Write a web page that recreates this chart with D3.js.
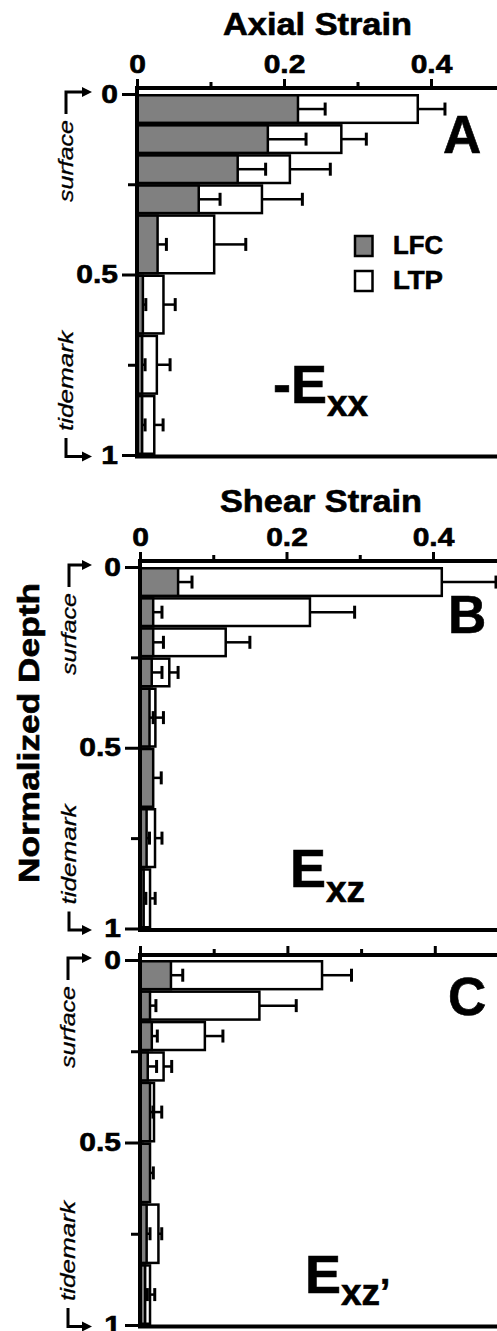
<!DOCTYPE html>
<html>
<head>
<meta charset="utf-8">
<script src="https://cdn.jsdelivr.net/npm/d3@7"></script>
<style>
  html, body { margin: 0; padding: 0; background: #fff; }
  svg { display: block; }
  text { font-family: "Liberation Sans", Arial, Helvetica, sans-serif; fill: #000; }
  text.heavy { stroke: #000; stroke-width: 0.6px; }
</style>
</head>
<body>
<svg id="chart" width="497" height="1331"></svg>
<script>
// Depth bins (normalized depth from surface to tidemark)
const depthEdges = [0, 1/12, 2/12, 3/12, 4/12, 0.5, 4/6, 5/6, 1];
const groups = ["LFC", "LTP"];

const strainTicks = [0, 0.2, 0.4];
const strainTickLabels = ["0", "0.2", "0.4"];
const strainMinorTicks = [0.1, 0.3];
const depthTicks = [0, 0.5, 1];
const depthTickLabels = ["0", "0.5", "1"];
const depthMinorTicks = [0.25, 0.75];

// Axial strain (-Exx), mean and SD per depth bin
const axialLFC    = [0.219, 0.178, 0.137, 0.084, 0.028, 0.008, 0.007, 0.007];
const axialLFCErr = [0.037, 0.052, 0.038, 0.029, 0.012, 0.004, 0.004, 0.004];
const axialLTP    = [0.382, 0.278, 0.208, 0.170, 0.105, 0.036, 0.027, 0.0235];
const axialLTPErr = [0.037, 0.034, 0.055, 0.055, 0.043, 0.016, 0.018, 0.012];

// Shear strain (Exz)
const shearLFC    = [0.052, 0.018, 0.018, 0.016, 0.013, 0.018, 0.009, 0.005];
const shearLFCErr = [0.019, 0.012, 0.014, 0.014, 0.005, 0.011, 0.004, 0.003];
const shearLTP    = [0.412, 0.232, 0.117, 0.040, 0.021, 0.012, 0.0205, 0.0137];
const shearLTPErr = [0.074, 0.061, 0.033, 0.012, 0.011, 0.005, 0.0095, 0.007];

// Shear strain in the rotated frame (Exz')
const shearPLFC    = [0.042, 0.0136, 0.016, 0.0105, 0.0136, 0.0136, 0.009, 0.007];
const shearPLFCErr = [0.016, 0.008, 0.0075, 0.012, 0.004, 0.0045, 0.0046, 0.003];
const shearPLTP    = [0.247, 0.162, 0.088, 0.032, 0.019, 0.004, 0.025, 0.0136];
const shearPLTPErr = [0.040, 0.050, 0.0245, 0.011, 0.0105, 0.003, 0.0045, 0.0064];

const panels = [
  { letter: "A", title: "Axial Strain", lfc: axialLFC, lfcErr: axialLFCErr, ltp: axialLTP, ltpErr: axialLTPErr,
    main: "-E", sub: "xx" },
  { letter: "B", title: "Shear Strain", lfc: shearLFC, lfcErr: shearLFCErr, ltp: shearLTP, ltpErr: shearLTPErr,
    main: "E", sub: "xz" },
  { letter: "C", title: null, lfc: shearPLFC, lfcErr: shearPLFCErr, ltp: shearPLTP, ltpErr: shearPLTPErr,
    main: "E", sub: "xz\u2019" }
];

// Page layout for each panel
const layout = [
  { x0: 137, ppu: 735, axisY: 88, y0: 94, y1: 455, tickLabels: true,
    titleX: 317.5, titleY: 35, titleLen: 189,
    letterX: 443, letterY: 153, formX: 273, formY: 403, subDy: 13, bracketX: 66, legend: true },
  { x0: 140, ppu: 732.5, axisY: 561, y0: 567, y1: 928.5, tickLabels: true,
    titleX: 321, titleY: 511.5, titleLen: 202,
    letterX: 448, letterY: 633, formX: 290, formY: 887, subDy: 15, bracketX: 69, legend: false },
  { x0: 140, ppu: 737, axisY: 955, y0: 960, y1: 1325, tickLabels: false,
    letterX: 448, letterY: 1015, formX: 305, formY: 1293, subDy: 12, bracketX: 68, legend: false }
];

const fills = { LFC: "#808080", LTP: "#ffffff" };
const svg = d3.select("#chart");
const W = 497;
const LABEL_STRETCH = 1.2;

function drawPanel(p, L) {
  const g = svg.append("g");
  const x = d3.scaleLinear().domain([0, 0.5]).range([L.x0, L.x0 + 0.5 * L.ppu]);
  const y = d3.scaleLinear().domain([0, 1]).range([L.y0, L.y1]);

  const bins = d3.range(depthEdges.length - 1).map(i => ({
    lo: depthEdges[i], hi: depthEdges[i + 1],
    LFC: p.lfc[i], LFCErr: p.lfcErr[i], LTP: p.ltp[i], LTPErr: p.ltpErr[i]
  }));

  // LTP first, LFC drawn over it
  ["LTP", "LFC"].forEach(key => {
    const s = g.append("g");
    s.selectAll("rect").data(bins).join("rect")
      .attr("x", x(0))
      .attr("y", d => y(d.lo) + 1.25)
      .attr("width", d => x(d[key]) - x(0))
      .attr("height", d => y(d.hi) - y(d.lo) - 2.5)
      .attr("fill", fills[key])
      .attr("stroke", "#000")
      .attr("stroke-width", 2.5);
    const mid = d => (y(d.lo) + y(d.hi)) / 2;
    s.selectAll("line.err").data(bins).join("line")
      .attr("class", "err")
      .attr("x1", d => x(d[key])).attr("x2", d => x(d[key] + d[key + "Err"]))
      .attr("y1", mid).attr("y2", mid)
      .attr("stroke", "#000").attr("stroke-width", 2.5);
    s.selectAll("line.cap").data(bins).join("line")
      .attr("class", "cap")
      .attr("x1", d => x(d[key] + d[key + "Err"])).attr("x2", d => x(d[key] + d[key + "Err"]))
      .attr("y1", d => mid(d) - 6.5).attr("y2", d => mid(d) + 6.5)
      .attr("stroke", "#000").attr("stroke-width", 3);
  });

  // Top strain axis
  const topAxis = g.append("g").attr("transform", `translate(0,${L.axisY})`)
    .call(d3.axisTop(x).tickValues(strainTicks).tickSize(9).tickSizeOuter(0).tickPadding(6)
      .tickFormat((d, i) => L.tickLabels ? strainTickLabels[i] : ""));
  topAxis.select(".domain").attr("stroke-width", 4).attr("d", `M${L.x0 - 2},0H${W + 5}`);
  topAxis.selectAll(".tick line").attr("stroke-width", 3);
  topAxis.selectAll(".tick text")
    .attr("class", "heavy")
    .attr("font-size", 25).attr("font-weight", "bold")
    .attr("font-family", "Liberation Sans, Arial, sans-serif")
    .attr("transform", `scale(${LABEL_STRETCH},1)`);
  const topMinor = g.append("g").attr("transform", `translate(0,${L.axisY})`)
    .call(d3.axisTop(x).tickValues(strainMinorTicks).tickSize(6).tickSizeOuter(0).tickFormat(""));
  topMinor.select(".domain").remove();
  topMinor.selectAll(".tick line").attr("stroke-width", 3);

  // Left depth axis
  const leftAxis = g.append("g").attr("transform", `translate(${L.x0},0)`)
    .call(d3.axisLeft(y).tickValues(depthTicks).tickSize(15).tickSizeOuter(0).tickPadding(4)
      .tickFormat((d, i) => depthTickLabels[i]));
  leftAxis.select(".domain").remove();
  leftAxis.selectAll(".tick line").attr("stroke-width", 3);
  leftAxis.selectAll(".tick text")
    .attr("class", "heavy")
    .attr("font-size", 25).attr("font-weight", "bold")
    .attr("font-family", "Liberation Sans, Arial, sans-serif")
    .attr("x", -19 / LABEL_STRETCH)
    .attr("transform", `scale(${LABEL_STRETCH},1)`);
  const leftMinor = g.append("g").attr("transform", `translate(${L.x0},0)`)
    .call(d3.axisLeft(y).tickValues(depthMinorTicks).tickSize(9).tickSizeOuter(0).tickFormat(""));
  leftMinor.select(".domain").remove();
  leftMinor.selectAll(".tick line").attr("stroke-width", 3);

  // Vertical axis line and bottom frame line
  g.append("line")
    .attr("x1", x(0)).attr("x2", x(0))
    .attr("y1", L.axisY).attr("y2", y(1) + 3)
    .attr("stroke", "#000").attr("stroke-width", 4);
  g.append("line")
    .attr("x1", x(0) - 2).attr("x2", W + 5)
    .attr("y1", y(1) + 1.5).attr("y2", y(1) + 1.5)
    .attr("stroke", "#000").attr("stroke-width", 4);

  // Title
  if (p.title) {
    g.append("text")
      .attr("class", "heavy")
      .attr("x", L.titleX).attr("y", L.titleY)
      .attr("text-anchor", "middle")
      .attr("font-size", 31).attr("font-weight", "bold")
      .attr("textLength", L.titleLen).attr("lengthAdjust", "spacingAndGlyphs")
      .text(p.title);
  }

  // Panel letter
  g.append("text")
    .attr("class", "heavy")
    .attr("x", L.letterX).attr("y", L.letterY)
    .attr("font-size", 53).attr("font-weight", "bold")
    .text(p.letter);

  // Strain component label with subscript
  const f = g.append("text")
    .attr("class", "heavy")
    .attr("x", L.formX).attr("y", L.formY)
    .attr("font-weight", "bold");
  f.append("tspan").attr("font-size", 54).text(p.main);
  f.append("tspan").attr("font-size", 37).attr("dy", L.subDy).text(p.sub);

  // surface / tidemark markers
  const bx = L.bracketX;
  const tipX = 92;
  const arrow = (yy) => {
    g.append("path")
      .attr("d", `M${tipX - 10},${yy - 5}L${tipX},${yy}L${tipX - 10},${yy + 5}Z`)
      .attr("fill", "#000");
  };
  const topY = y(0) - 2;
  g.append("path")
    .attr("d", `M${bx},${y(0) + 20}V${topY}H${tipX - 6}`)
    .attr("fill", "none").attr("stroke", "#000").attr("stroke-width", 3);
  arrow(topY);
  const botY = y(1) + 1.5;
  g.append("path")
    .attr("d", `M${bx},${y(1) - 17}V${botY}H${tipX - 6}`)
    .attr("fill", "none").attr("stroke", "#000").attr("stroke-width", 3);
  arrow(botY);

  g.append("text")
    .attr("transform", `translate(${bx + 7},${y(0) + 67}) rotate(-90)`)
    .attr("text-anchor", "middle")
    .attr("font-size", 21).attr("font-style", "italic")
    .attr("stroke", "#000").attr("stroke-width", 0.3)
    .attr("textLength", 82).attr("lengthAdjust", "spacingAndGlyphs")
    .text("surface");
  g.append("text")
    .attr("transform", `translate(${bx + 7},${y(1) - 74}) rotate(-90)`)
    .attr("text-anchor", "middle")
    .attr("font-size", 21).attr("font-style", "italic")
    .attr("stroke", "#000").attr("stroke-width", 0.3)
    .attr("textLength", 100).attr("lengthAdjust", "spacingAndGlyphs")
    .text("tidemark");

  // Legend
  if (L.legend) {
    const lg = g.append("g");
    groups.forEach((name, i) => {
      lg.append("rect")
        .attr("x", 355).attr("y", 236 + i * 35)
        .attr("width", 17.5).attr("height", 20)
        .attr("fill", fills[name]).attr("stroke", "#000").attr("stroke-width", 2.5);
      lg.append("text")
        .attr("class", "heavy")
        .attr("x", 393).attr("y", 253.5 + i * 35)
        .attr("font-size", 25).attr("font-weight", "bold")
        .attr("textLength", 50).attr("lengthAdjust", "spacingAndGlyphs")
        .text(name);
    });
  }
}

panels.forEach((p, i) => drawPanel(p, layout[i]));

// Shared depth axis title
svg.append("text")
  .attr("class", "heavy")
  .attr("transform", "translate(38.5,733) rotate(-90)")
  .attr("text-anchor", "middle")
  .attr("font-size", 29).attr("font-weight", "bold")
  .attr("textLength", 300).attr("lengthAdjust", "spacingAndGlyphs")
  .text("Normalized Depth");
</script>
</body>
</html>
